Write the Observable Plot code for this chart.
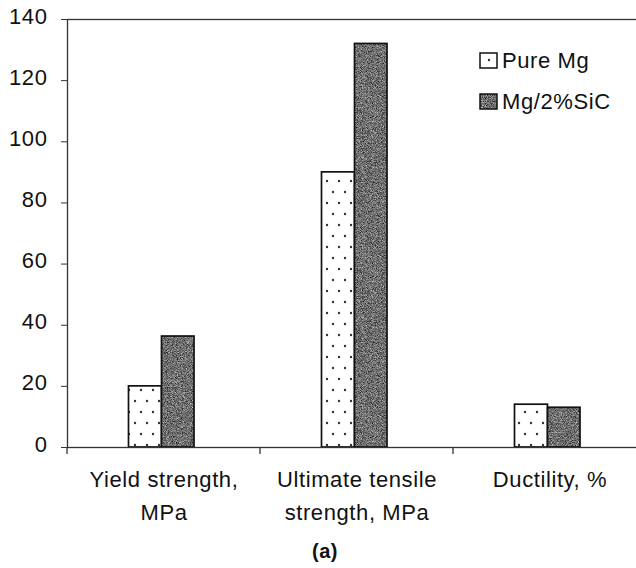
<!DOCTYPE html>
<html><head><meta charset="utf-8">
<script src="https://cdn.jsdelivr.net/npm/d3@7"></script>
<script src="https://cdn.jsdelivr.net/npm/@observablehq/plot@0.6"></script>
<style>html,body{margin:0;padding:0;overflow:hidden;background:#fff}</style>
</head><body><div id="chart"></div>
<script>
const categories = ["Yield strength,\nMPa", "Ultimate tensile\nstrength, MPa", "Ductility, %"];
const series = ["Pure Mg", "Mg/2%SiC"];
const pureMg = [20, 90, 14];
const mgSiC = [36.3, 132, 13];
const yTicks = [0, 20, 40, 60, 80, 100, 120, 140];
const caption = "(a)";

const pureData = categories.map((c, i) => ({category: c, series: series[0], value: pureMg[i]}));
const sicData = categories.map((c, i) => ({category: c, series: series[1], value: mgSiC[i]}));

const font = "'Liberation Sans', Arial, sans-serif";
const ink = "#111";

const chart = Plot.plot({
  width: 636, height: 568,
  marginLeft: 67, marginRight: -10, marginTop: 19, marginBottom: 121,
  style: {fontFamily: font, fontSize: "22px", color: ink, background: "#fff", letterSpacing: "0.6px"},
  x: {domain: categories, padding: 0, label: null},
  y: {domain: [0, 140], label: null},
  marks: [
    Plot.barY(pureData, {x: "category", y: "value", fill: "url(#dots)", stroke: "#111", strokeWidth: 1.7, insetLeft: 61.5, insetRight: 98.5}),
    Plot.barY(sicData, {x: "category", y: "value", fill: "url(#noise)", stroke: "#111", strokeWidth: 1.7, insetLeft: 94.5, insetRight: 66}),
    Plot.frame({stroke: "#333", strokeWidth: 1.3}),
    Plot.axisY({ticks: yTicks, tickSize: 6, tickFormat: () => "", stroke: "#333"}),
    Plot.axisY({ticks: yTicks, tickSize: 0, tickFormat: d => String(d), fontSize: 22, fill: ink, dx: -11, dy: -3}),
    Plot.axisX({tickSize: 0, tickPadding: 16, lineHeight: 1.5, fontSize: 22, fill: ink})
  ]
});

const svg = d3.select(chart);
const defs = svg.insert("defs", ":first-child");
defs.html(`
  <filter id="noiseF" x="0" y="0" width="100%" height="100%" color-interpolation-filters="sRGB">
    <feTurbulence type="fractalNoise" baseFrequency="1.2" numOctaves="2" seed="7" result="t"/>
    <feColorMatrix in="t" type="matrix" values="1.1 0 0 0 -0.12  1.1 0 0 0 -0.12  1.1 0 0 0 -0.12  0 0 0 0 1"/>
  </filter>
  <pattern id="noise" patternUnits="userSpaceOnUse" width="160" height="160">
    <rect width="160" height="160" fill="#777" filter="url(#noiseF)"/>
  </pattern>
  <pattern id="dots" patternUnits="userSpaceOnUse" width="12" height="22">
    <rect width="12" height="22" fill="#fff"/>
    <circle cx="3" cy="5" r="1.2" fill="#333"/>
    <circle cx="9" cy="16" r="1.2" fill="#333"/>
  </pattern>
`);

// x-axis ticks at category boundaries
const xs = chart.scale("x");
const y0 = chart.scale("y").apply(0);
const x0 = xs.range[0];
for (let i = 0; i <= categories.length; i++) {
  const xx = x0 + i * xs.step;
  svg.append("line").attr("x1", xx).attr("x2", xx).attr("y1", y0).attr("y2", y0 + 7)
    .attr("stroke", "#333").attr("stroke-width", 1.3);
}

// legend
const leg = svg.append("g").attr("font-family", font).attr("font-size", 22).attr("fill", ink)
  .attr("text-anchor", "start");
const fills = ["url(#dots)", "url(#noise)"];
series.forEach((s, i) => {
  const yy = 53 + i * 41;
  leg.append("rect").attr("x", 480).attr("y", yy).attr("width", 17).attr("height", 15)
    .attr("fill", fills[i]).attr("stroke", "#111").attr("stroke-width", 1.5);
  leg.append("text").attr("x", 502).attr("y", yy + 15).text(s);
});

// caption
svg.append("text").attr("x", 325).attr("y", 558).attr("text-anchor", "middle")
  .attr("font-family", font).attr("font-size", 20).attr("font-weight", "bold").attr("fill", ink)
  .text(caption);

document.getElementById("chart").appendChild(chart);
</script>
</body></html>
